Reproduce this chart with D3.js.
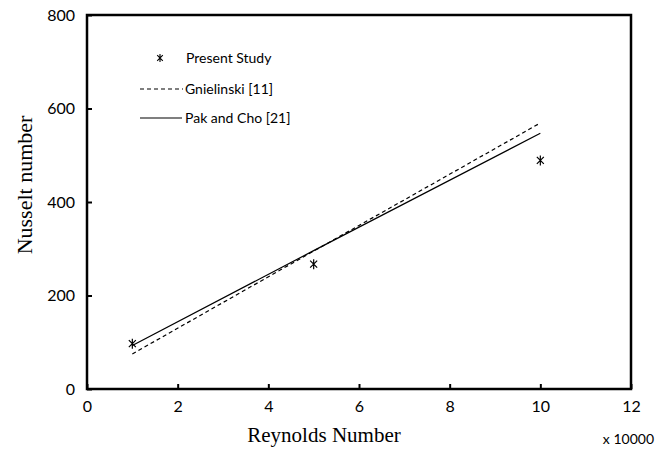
<!DOCTYPE html>
<html>
<head>
<meta charset="utf-8">
<script src="https://cdn.jsdelivr.net/npm/d3@7"></script>
<style>
  body { margin: 0; background: #fff; }
  svg text { fill: #000; }
</style>
</head>
<body>
<svg id="chart" width="656" height="450"></svg>
<script>
// data (Reynolds number in units of 10000)
const studyRe = [1, 5, 10];
const studyNu = [97, 267, 489];
const gnielRe = [1, 5, 10];
const gnielNu = [75, 295, 569];
const pakRe = [1, 5, 10];
const pakNu = [93, 296, 547];
const xTicks = [0, 2, 4, 6, 8, 10, 12];
const yTicks = [0, 200, 400, 600, 800];

const svg = d3.select('#chart');
const margin = { top: 15, right: 25, bottom: 61, left: 87 };
const width = 656, height = 450;

const x = d3.scaleLinear().domain([0, 12]).range([margin.left, width - margin.right]);
const y = d3.scaleLinear().domain([0, 800]).range([height - margin.bottom, margin.top]);

const sans = 'Lato, "Liberation Sans", sans-serif';
const serif = '"Liberation Serif", "DejaVu Serif", serif';

// frame
svg.append('rect')
  .attr('x', x(0)).attr('y', y(800))
  .attr('width', x(12) - x(0)).attr('height', y(0) - y(800))
  .attr('fill', 'none').attr('stroke', '#000').attr('stroke-width', 2.5);

// axes with inward ticks
const xAxis = svg.append('g')
  .attr('transform', `translate(0, ${y(0)})`)
  .call(d3.axisBottom(x).tickValues(xTicks).tickSizeInner(-5).tickSizeOuter(0).tickPadding(12));
const yAxis = svg.append('g')
  .attr('transform', `translate(${x(0)}, 0)`)
  .call(d3.axisLeft(y).tickValues(yTicks).tickSizeInner(-5).tickSizeOuter(0).tickPadding(12));

[xAxis, yAxis].forEach(g => {
  g.select('.domain').remove();
  g.selectAll('line').attr('stroke', '#000').attr('stroke-width', 2);
  g.selectAll('text').attr('font-family', sans).attr('font-size', 16).attr('fill', '#000');
});

// lines
const line = d3.line().x(d => x(d[0])).y(d => y(d[1]));

svg.append('path')
  .datum(gnielRe.map((r, i) => [r, gnielNu[i]]))
  .attr('d', line)
  .attr('fill', 'none').attr('stroke', '#000').attr('stroke-width', 1.2)
  .attr('stroke-dasharray', '4,3');

svg.append('path')
  .datum(pakRe.map((r, i) => [r, pakNu[i]]))
  .attr('d', line)
  .attr('fill', 'none').attr('stroke', '#000').attr('stroke-width', 1.2);

// asterisk marker: vertical bar plus an X
function star(cx, cy, r) {
  const a = r * 0.7, b = r * 0.7;
  return `M${cx},${cy - r}L${cx},${cy + r}` +
    `M${cx - a},${cy - b}L${cx + a},${cy + b}` +
    `M${cx - a},${cy + b}L${cx + a},${cy - b}`;
}

svg.selectAll('.pt')
  .data(studyRe.map((r, i) => [r, studyNu[i]]))
  .enter().append('path')
  .attr('class', 'pt')
  .attr('d', d => star(x(d[0]), y(d[1]), 5))
  .attr('stroke', '#000').attr('stroke-width', 1.2).attr('fill', 'none');

// legend
const legend = svg.append('g').attr('font-family', sans).attr('font-size', 14);
legend.append('path').attr('d', star(160, 58, 4))
  .attr('stroke', '#000').attr('stroke-width', 1.1).attr('fill', 'none');
legend.append('text').attr('x', 186).attr('y', 58).attr('dy', '0.35em').text('Present Study');
legend.append('line').attr('x1', 140).attr('x2', 183).attr('y1', 89).attr('y2', 89)
  .attr('stroke', '#000').attr('stroke-width', 1.2).attr('stroke-dasharray', '4,3');
legend.append('text').attr('x', 185).attr('y', 89).attr('dy', '0.35em').text('Gnielinski [11]');
legend.append('line').attr('x1', 140).attr('x2', 182).attr('y1', 118).attr('y2', 118)
  .attr('stroke', '#000').attr('stroke-width', 1.2);
legend.append('text').attr('x', 185).attr('y', 118).attr('dy', '0.35em').text('Pak and Cho [21]');

// axis titles
svg.append('text')
  .attr('x', 324).attr('y', 442)
  .attr('text-anchor', 'middle')
  .attr('font-family', serif).attr('font-size', 21)
  .text('Reynolds Number');

svg.append('text')
  .attr('transform', 'translate(32, 185) rotate(-90)')
  .attr('text-anchor', 'middle')
  .attr('font-family', serif).attr('font-size', 22)
  .text('Nusselt number');

svg.append('text')
  .attr('x', 654).attr('y', 444)
  .attr('text-anchor', 'end')
  .attr('font-family', sans).attr('font-size', 14)
  .text('x 10000');
</script>
</body>
</html>
